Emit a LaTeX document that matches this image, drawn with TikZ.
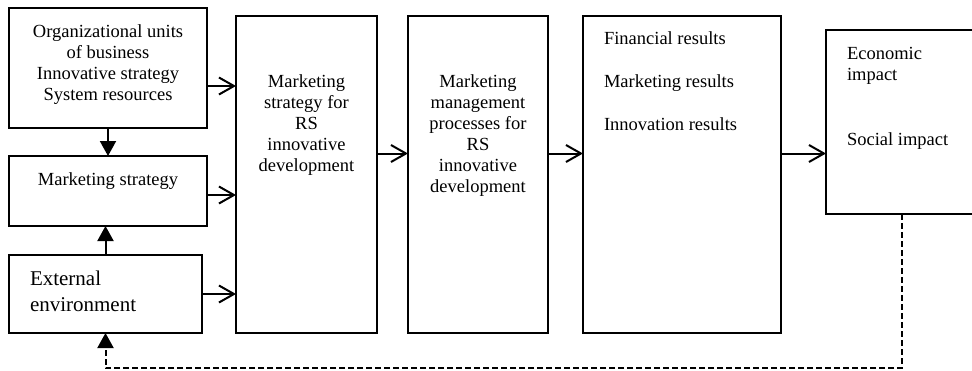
\documentclass[tikz,border=0pt]{standalone}
\usepackage{fontspec}
\setmainfont{Liberation Serif}
\usepackage{tikz}
\usetikzlibrary{positioning}
\usetikzlibrary{arrows.meta}

\begin{document}
\begin{tikzpicture}[x=1pt, y=-1pt,
    every node/.style={inner sep=0pt, outer sep=0pt},
    box/.style={draw, line width=2pt, anchor=north west},
    txt/.style={align=center, font=\fontsize{18.5}{21}\selectfont},
    ltxt/.style={align=left, font=\fontsize{18.5}{21}\selectfont},
    flow/.style={line width=2pt, -{Straight Barb[length=15pt, width=17pt, line width=2pt]}},
    up/.style={line width=2pt, -{Triangle[length=15pt, width=16pt]}},
    feedback/.style={line width=2pt, dash pattern=on 6pt off 3pt, -{Triangle[length=15pt, width=16pt]}}]
    \path[use as bounding box, clip] (0,0) rectangle (972,370);

    % left column
    \node [box, minimum width=198pt, minimum height=120pt] (org) at (9,8) {};
    \node [box, minimum width=198pt, minimum height=70pt] (mkt) at (9,156) {};
    \node [box, minimum width=193pt, minimum height=78pt] (ext) at (9,255) {};
    \node [txt, anchor=north] (orgtxt) at ([yshift=-16.4pt]org.north) {Organizational units \\ of business \\ Innovative strategy \\ System resources};
    \node [txt, anchor=north] (mkttxt) at ([yshift=-16.4pt]mkt.north) {Marketing strategy};
    \node [ltxt, anchor=north west, font=\fontsize{21}{26}\selectfont] (exttxt) at ([xshift=21pt, yshift=-15.7pt]ext.north west) {External \\ environment};

    % main chain
    \node [box, minimum width=141pt, minimum height=317pt] (rsstr) at (236,16) {};
    \node [box, minimum width=140pt, minimum height=317pt] (proc) at (408,16) {};
    \node [box, minimum width=198pt, minimum height=317pt] (res) at (583,16) {};
    \node [box, minimum width=152pt, minimum height=184pt] (impact) at (826,30) {};
    \node [txt, anchor=north] (rsstrtxt) at ([yshift=-58.4pt]rsstr.north) {Marketing \\ strategy for \\ RS \\ innovative \\ development};
    \node [txt, anchor=north] (proctxt) at ([yshift=-58.4pt]proc.north) {Marketing \\ management \\ processes for \\ RS \\ innovative \\ development};
    \node [ltxt, anchor=north west] (restxt) at ([xshift=21pt, yshift=-15.4pt]res.north west) {Financial results \\[22pt] Marketing results \\[22pt] Innovation results};
    \node [ltxt, anchor=north west] (impacttxt) at ([xshift=21pt, yshift=-16.8pt]impact.north west) {Economic \\ impact \\[44pt] Social impact};
    \coordinate (fbbase) at (500,368);

    \draw [up] (org.south) -- (mkt.north);
    \draw [up] (ext.north) -- (mkt.south -| ext.north);
    \draw [flow] ([yshift=-18pt]org.east) -- ([yshift=-18pt]org.east -| rsstr.west);
    \draw [flow] ([yshift=-4pt]mkt.east) -- ([yshift=-4pt]mkt.east -| rsstr.west);
    \draw [flow] (ext.east) -- (ext.east -| rsstr.west);
    \draw [flow] ([yshift=21pt]rsstr.east) -- ([yshift=21pt]rsstr.east -| proc.west);
    \draw [flow] ([yshift=21pt]proc.east) -- ([yshift=21pt]proc.east -| res.west);
    \draw [flow] ([yshift=21pt]res.east) -- ([yshift=21pt]res.east -| impact.west);
    \draw [feedback] (impact.south) |- (fbbase) -| (ext.south);
\end{tikzpicture}
\end{document}
